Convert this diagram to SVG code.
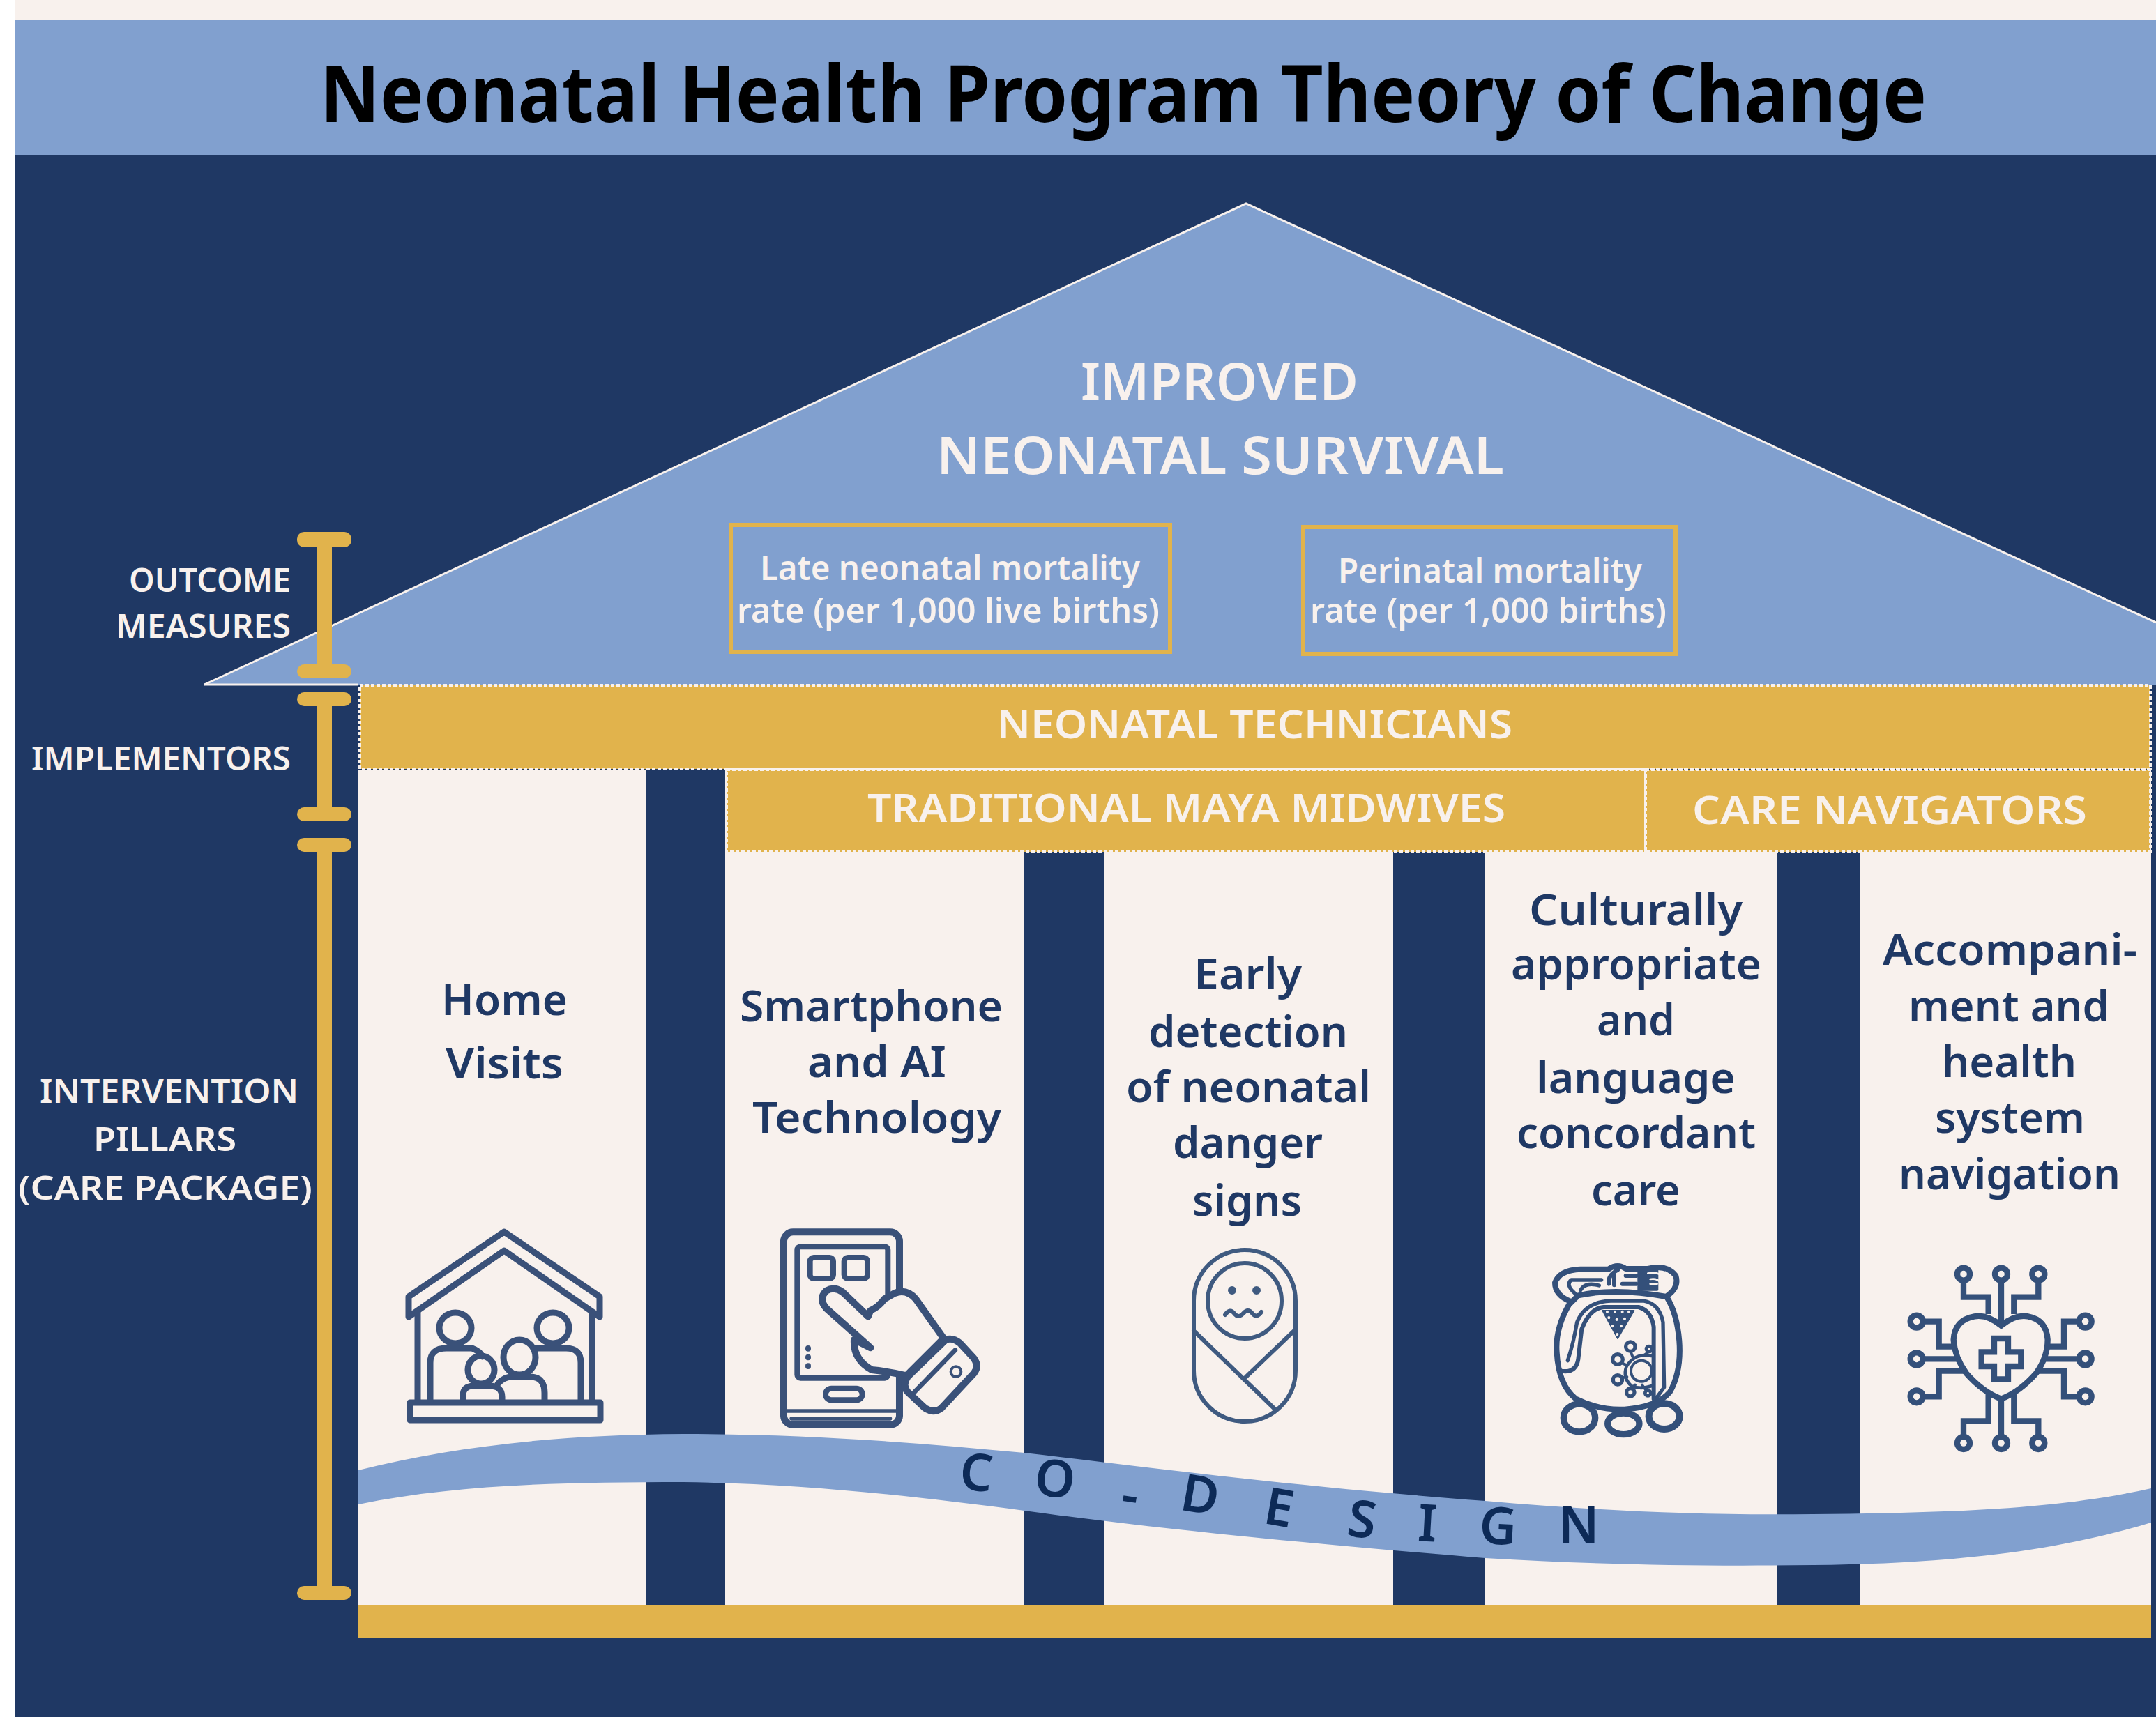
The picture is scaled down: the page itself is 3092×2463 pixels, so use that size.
<svg xmlns="http://www.w3.org/2000/svg" width="3092" height="2463" viewBox="0 0 3092 2463">
<style>
text{font-family:"Noto Sans","Open Sans","Liberation Sans",sans-serif;font-weight:600}
.lt{fill:#f8f1ed}
.side{font-size:46px}
.roof{font-size:74px}
.rate{font-size:48px}
.impl{font-size:56px}
.pil{font-size:62px;fill:#1f3864}
.co{font-size:74px;font-weight:600;fill:#0d2a57;text-anchor:middle}
.gold{fill:#e1b34c}
.cream{fill:#f8f1ed}
.navy{fill:#1f3864}
.dot{stroke:#f8f1ed;stroke-width:4;stroke-dasharray:5 3}
.box{fill:none;stroke:#e1b34c;stroke-width:6}
.ic{fill:none;stroke:#3a5179;stroke-linejoin:round;stroke-linecap:round}
</style>
<rect width="3092" height="2463" fill="#fff"/>
<g id="background">
<rect x="21" y="0" width="3071" height="30" class="cream"/>
<rect x="21" y="223" width="3071" height="2240" class="navy"/>
</g>
<g id="header">
<rect x="21" y="29" width="3071" height="194" fill="#81a0cf"/>
<text x="459" y="175" font-size="113" style="font-weight:700" fill="#000" textLength="2304" lengthAdjust="spacingAndGlyphs">Neonatal Health Program Theory of Change</text>
</g>
<g id="roof">
<polygon points="293,982 1787,292 3092,893 3092,982" fill="#81a0cf"/>
<path d="M293,982 L1787,292 L3092,893" fill="none" stroke="#f8f1ed" stroke-width="3"/>
<path d="M293,982 H514" stroke="#f8f1ed" stroke-width="3"/>
<text class="lt roof" x="1550" y="574" textLength="398" lengthAdjust="spacingAndGlyphs">IMPROVED</text>
<text class="lt roof" x="1343" y="680" textLength="814" lengthAdjust="spacingAndGlyphs">NEONATAL SURVIVAL</text>
</g>
<g id="measure-late">
<rect class="box" x="1048" y="753" width="630" height="182"/>
<text class="lt rate" x="1090" y="832" textLength="545" lengthAdjust="spacingAndGlyphs">Late neonatal mortality</text>
<text class="lt rate" x="1057" y="893" textLength="606" lengthAdjust="spacingAndGlyphs">rate (per 1,000 live births)</text>
</g>
<g id="measure-perinatal">
<rect class="box" x="1869" y="756" width="534" height="182"/>
<text class="lt rate" x="1919" y="836" textLength="436" lengthAdjust="spacingAndGlyphs">Perinatal mortality</text>
<text class="lt rate" x="1879" y="893" textLength="511" lengthAdjust="spacingAndGlyphs">rate (per 1,000 births)</text>
</g>
<g id="pillars">
<rect x="514" y="1104" width="2571" height="1200" class="cream"/>
<rect x="926" y="1104" width="114" height="1200" class="navy"/>
<rect x="1469" y="1222" width="115" height="1082" class="navy"/>
<rect x="1998" y="1222" width="132" height="1082" class="navy"/>
<rect x="2549" y="1222" width="118" height="1082" class="navy"/>
</g>
<g id="implementer-neonatal-technicians">
<rect class="gold dot" x="516" y="983" width="2568" height="120"/>
<text class="lt impl" x="1430" y="1059" textLength="739" lengthAdjust="spacingAndGlyphs">NEONATAL TECHNICIANS</text>
</g>
<g id="implementer-midwives">
<rect class="gold dot" x="1042" y="1104" width="1318" height="118"/>
<text class="lt impl" x="1244" y="1179" textLength="915" lengthAdjust="spacingAndGlyphs">TRADITIONAL MAYA MIDWIVES</text>
</g>
<g id="implementer-care-navigators">
<rect class="gold dot" x="2360" y="1104" width="724" height="118"/>
<text class="lt impl" x="2427" y="1182" textLength="566" lengthAdjust="spacingAndGlyphs">CARE NAVIGATORS</text>
</g>
<g id="base"><rect x="513" y="2303" width="2572" height="47" class="gold"/></g>
<g id="pillar-home">
<text class="pil" x="633" y="1456" textLength="181" lengthAdjust="spacingAndGlyphs">Home</text>
<text class="pil" x="639" y="1547" textLength="169" lengthAdjust="spacingAndGlyphs">Visits</text>
<g class="ic" stroke-width="9">
<path d="M723,1767 L586,1860 V1889 L723,1794 L860,1889 V1860 Z"/>
<path d="M599,1882 V2011 M849,1882 V2011"/>
<rect x="588" y="2012" width="273" height="25" stroke-width="9"/>
<ellipse cx="653" cy="1905" rx="23" ry="22"/>
<ellipse cx="793" cy="1905" rx="23" ry="22"/>
<path d="M617,2010 V1955 Q617,1934 640,1934 H677 Q688,1938 692,1946 M833,2010 V1955 Q833,1934 812,1934 H767"/>
<ellipse cx="745" cy="1947" rx="23" ry="25"/>
<path d="M714,1985 Q722,1975 735,1975 H760 Q781,1975 781,1998 V2010"/>
<ellipse cx="690" cy="1965" rx="19" ry="20"/>
<path d="M664,2010 V2002 Q664,1988 680,1988 H702 Q720,1988 720,2004 V2010"/>
</g>
</g>
<g id="pillar-smartphone">
<text class="pil" x="1061" y="1465" textLength="377" lengthAdjust="spacingAndGlyphs">Smartphone</text>
<text class="pil" x="1158" y="1545" textLength="199" lengthAdjust="spacingAndGlyphs">and AI</text>
<text class="pil" x="1079" y="1625" textLength="357" lengthAdjust="spacingAndGlyphs">Technology</text>
<g class="ic" stroke-width="30" transform="translate(1080,1740) scale(.3333)">
<rect x="132" y="82" width="498" height="830" rx="40"/>
<rect x="190" y="145" width="390" height="565" rx="14" stroke-width="24"/>
<rect x="245" y="192" width="100" height="90" rx="16" stroke-width="24"/>
<rect x="392" y="192" width="100" height="90" rx="16" stroke-width="24"/>
<path d="M237,582 V584 M237,620 V622 M237,658 V660" stroke-width="24"/>
<rect x="312" y="755" width="158" height="50" rx="25" stroke-width="24"/>
<path d="M140,852 H625 M165,885 H590" stroke-width="16"/>
<path d="M505,580 L315,410 Q280,370 315,335 Q350,315 385,340 L495,445 L505,420 Q540,405 565,370 L610,345 Q660,325 700,370 L820,540 L660,700 Q570,680 510,675 Q430,630 435,545 Z" fill="#f8f1ed"/>
<path d="M830,545 Q860,535 890,560 L950,625 Q975,660 950,690 L810,840 Q780,865 740,840 L665,770 Q640,740 665,705 Z" fill="#f8f1ed"/>
<path d="M870,590 L695,770" stroke-width="20"/>
<circle cx="873" cy="683" r="22" stroke-width="12"/>
</g>
</g>
<g id="pillar-detection">
<text class="pil" x="1712" y="1419" textLength="155" lengthAdjust="spacingAndGlyphs">Early</text>
<text class="pil" x="1647" y="1502" textLength="286" lengthAdjust="spacingAndGlyphs">detection</text>
<text class="pil" x="1615" y="1581" textLength="351" lengthAdjust="spacingAndGlyphs">of neonatal</text>
<text class="pil" x="1682" y="1661" textLength="215" lengthAdjust="spacingAndGlyphs">danger</text>
<text class="pil" x="1710" y="1744" textLength="157" lengthAdjust="spacingAndGlyphs">signs</text>
<g class="ic" stroke-width="6" style="stroke:#3f5a80">
<rect x="1712" y="1793" width="146" height="246" rx="73"/>
<ellipse cx="1785" cy="1866" rx="53" ry="54"/>
<circle cx="1767" cy="1851" r="3"/><circle cx="1802" cy="1851" r="3"/>
<path d="M1757,1886 q7,-10 13,-2 t13,0 t13,0 t13,-2" />
<path d="M1712,1909 L1828,2021 M1856,1909 L1787,1975"/>
</g>
</g>
<g id="pillar-culture">
<text class="pil" x="2193" y="1327" textLength="306" lengthAdjust="spacingAndGlyphs">Culturally</text>
<text class="pil" x="2167" y="1405" textLength="359" lengthAdjust="spacingAndGlyphs">appropriate</text>
<text class="pil" x="2290" y="1485" textLength="112" lengthAdjust="spacingAndGlyphs">and</text>
<text class="pil" x="2203" y="1568" textLength="286" lengthAdjust="spacingAndGlyphs">language</text>
<text class="pil" x="2175" y="1647" textLength="343" lengthAdjust="spacingAndGlyphs">concordant</text>
<text class="pil" x="2282" y="1729" textLength="128" lengthAdjust="spacingAndGlyphs">care</text>
<g class="ic" stroke-width="24" transform="translate(2150,1780) scale(.3333)" style="stroke:#34507a">
<path d="M300,275 Q240,380 248,480 Q255,620 330,680 Q430,730 540,725 Q680,715 735,650 Q785,560 775,430 Q765,310 720,240 Q500,200 340,235 Z"/>
<path d="M295,515 Q320,440 335,350 Q370,262 480,258 H620 Q690,270 705,350 L710,630 L670,685" stroke-width="16"/>
<path d="M268,560 Q330,570 340,510 L355,380 Q390,290 450,285 H600 Q655,300 665,370 V680" stroke-width="18"/>
<ellipse cx="345" cy="762" rx="68" ry="60" stroke-width="28"/>
<ellipse cx="535" cy="787" rx="68" ry="46" stroke-width="28"/>
<ellipse cx="710" cy="755" rx="66" ry="55" stroke-width="30"/>
<path d="M310,262 Q240,235 240,180 Q260,125 350,122 H470 Q510,95 545,120 H640 Q720,100 760,150 Q775,200 725,235"/>
<path d="M325,225 Q285,190 310,168 H440 M350,212 Q370,175 430,192" stroke-width="16"/>
<path d="M510,125 Q465,150 472,185 M495,150 V190 M545,150 H590 M530,185 H590" stroke-width="18"/>
<path d="M600,120 H680 V210 H600 Z" fill="#34507a" stroke-width="10"/>
<path d="M640,140 Q690,130 720,165 M650,165 Q680,160 695,180 M650,185 H680 M705,215 Q735,180 715,135" stroke="#f8f1ed" stroke-width="8"/>
<path d="M445,300 H580 L510,420 Z" fill="#34507a" stroke-width="6"/>
<path d="M465,305 V306 M498,305 V306 M530,305 V306 M558,305 V306 M472,330 V331 M506,338 V339 M540,335 V336 M488,366 V367 M525,366 V367 M508,402 V403" stroke="#f8f1ed" stroke-width="12"/>
<circle cx="612" cy="560" r="45" stroke-width="12"/>
<path d="M655,495 Q585,480 548,540 Q530,590 570,625 Q610,640 655,625" stroke-width="14"/>
<path d="M565,475 L575,500 M525,525 L550,535 M525,590 L550,585 M570,635 L585,620 M640,480 L620,495 M630,640 L615,620" stroke-width="12"/>
<circle cx="565" cy="455" r="20" stroke-width="16"/>
<circle cx="510" cy="510" r="22" stroke-width="16"/>
<circle cx="510" cy="598" r="20" stroke-width="16"/>
<circle cx="565" cy="652" r="17" stroke-width="16"/>
<circle cx="645" cy="465" r="12" stroke-width="14"/>
<circle cx="640" cy="655" r="12" stroke-width="14"/>
</g>
</g>
<g id="pillar-navigation">
<text class="pil" x="2700" y="1384" textLength="365" lengthAdjust="spacingAndGlyphs">Accompani-</text>
<text class="pil" x="2737" y="1465" textLength="288" lengthAdjust="spacingAndGlyphs">ment and</text>
<text class="pil" x="2785" y="1545" textLength="193" lengthAdjust="spacingAndGlyphs">health</text>
<text class="pil" x="2775" y="1625" textLength="215" lengthAdjust="spacingAndGlyphs">system</text>
<text class="pil" x="2723" y="1706" textLength="318" lengthAdjust="spacingAndGlyphs">navigation</text>
<g class="ic" stroke-width="25" transform="translate(2700,1790) scale(.3333)" style="stroke:#34507a;stroke-linecap:butt;stroke-linejoin:miter">
<circle cx="348" cy="113" r="27"/><circle cx="510" cy="113" r="27"/><circle cx="670" cy="113" r="27"/>
<circle cx="146" cy="317" r="27"/><circle cx="146" cy="478" r="27"/><circle cx="146" cy="640" r="27"/>
<circle cx="872" cy="317" r="27"/><circle cx="872" cy="478" r="27"/><circle cx="872" cy="640" r="27"/>
<circle cx="348" cy="840" r="27"/><circle cx="510" cy="840" r="27"/><circle cx="670" cy="840" r="27"/>
<path d="M348,142 V212 H455 V285 M510,142 V340 M670,142 V212 H565 V285 M175,317 H242 V425 H305 M175,478 H320 M175,640 H242 V530 H350 M843,317 H780 V425 H710 M843,478 H695 M843,640 H780 V530 H670 M348,811 V745 H455 V630 M510,811 V650 M670,811 V745 H565 V630"/>
<path d="M510,335 Q450,285 395,295 Q310,310 305,395 Q310,470 360,540 Q430,620 510,650 Q590,620 660,540 Q710,470 710,395 Q705,310 625,295 Q570,285 510,335 Z"/>
<path d="M480,390 H540 V448 H595 V510 H540 V565 H480 V510 H425 V448 H480 Z"/>
</g>
</g>
<g id="co-design">
<path d="M514,2109 C650,2075 800,2058 980,2057 C1150,2057 1300,2068 1469,2084 C1650,2105 1850,2132 2130,2153 C2300,2168 2450,2174 2600,2172 C2800,2170 2950,2165 3085,2135 V2184 C2950,2225 2800,2243 2600,2245 C2450,2247 2300,2245 2130,2235 C1850,2212 1650,2192 1469,2167 C1300,2145 1150,2128 980,2126 C800,2126 650,2130 514,2158 Z" fill="#81a0cf"/>
<text class="co" transform="translate(1398,2138) rotate(5)">C</text>
<text class="co" transform="translate(1510,2147) rotate(7)">O</text>
<text class="co" transform="translate(1617,2170) rotate(9)">-</text>
<text class="co" transform="translate(1717,2170) rotate(10)">D</text>
<text class="co" transform="translate(1830,2188) rotate(10)">E</text>
<text class="co" transform="translate(1950,2205) rotate(8)">S</text>
<text class="co" transform="translate(2046,2211) rotate(3)">I</text>
<text class="co" transform="translate(2147,2215) rotate(3)">G</text>
<text class="co" transform="translate(2264,2214) rotate(0)">N</text>
</g>
<g id="left-labels">
<text class="lt side" x="185" y="849" textLength="232" lengthAdjust="spacingAndGlyphs">OUTCOME</text>
<text class="lt side" x="166" y="915" textLength="251" lengthAdjust="spacingAndGlyphs">MEASURES</text>
<text class="lt side" x="45" y="1105" textLength="372" lengthAdjust="spacingAndGlyphs">IMPLEMENTORS</text>
<text class="lt side" x="57" y="1582" textLength="371" lengthAdjust="spacingAndGlyphs">INTERVENTION</text>
<text class="lt side" x="134" y="1651" textLength="205" lengthAdjust="spacingAndGlyphs">PILLARS</text>
<text class="lt side" x="26" y="1721" textLength="422" lengthAdjust="spacingAndGlyphs">(CARE PACKAGE)</text>
</g>
<g id="connectors" class="gold">
<rect x="455" y="770" width="21" height="195"/><rect x="426" y="763" width="78" height="22" rx="10"/><rect x="426" y="953" width="78" height="20" rx="10"/>
<rect x="455" y="1000" width="21" height="170"/><rect x="426" y="993" width="78" height="20" rx="10"/><rect x="426" y="1158" width="78" height="20" rx="10"/>
<rect x="455" y="1210" width="21" height="1075"/><rect x="426" y="1202" width="78" height="20" rx="10"/><rect x="426" y="2275" width="78" height="20" rx="10"/>
</g>
</svg>
